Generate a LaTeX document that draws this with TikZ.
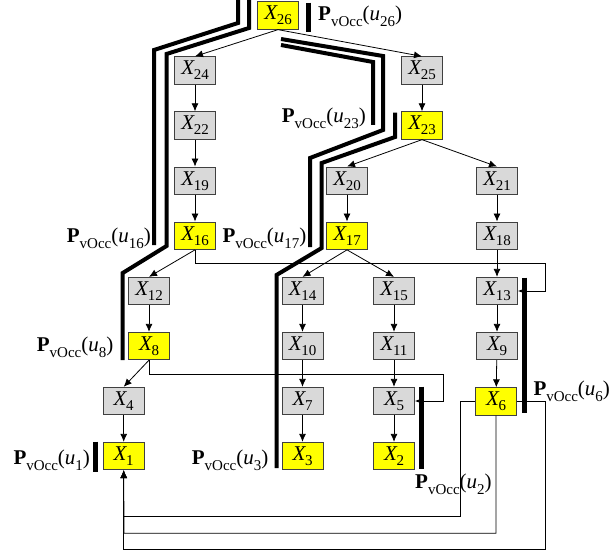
\documentclass[tikz,border=0pt]{standalone}
\usepackage{fontspec}
\setmainfont{Liberation Serif}
\usetikzlibrary{arrows.meta}
\definecolor{boxgray}{HTML}{D9D9D9}
\definecolor{boxyellow}{HTML}{FFFF00}
\definecolor{boxline}{HTML}{404040}
\newcommand{\Xv}[1]{\fontsize{21}{21}\selectfont\textit{X}\kern-1pt\raisebox{-5pt}{\fontsize{15}{15}\selectfont #1}}
\newcommand{\Pv}[1]{\fontsize{21}{21}\selectfont\textbf{P}\raisebox{-6pt}{\fontsize{15}{15}\selectfont vOcc}(\textit{u}\raisebox{-6pt}{\fontsize{15}{15}\selectfont #1})}
\tikzset{
  vbox/.style={draw=boxline, line width=0.8pt, minimum width=41pt, minimum height=27.5pt, inner sep=0pt, fill=boxgray},
  ybox/.style={vbox, fill=boxyellow},
  arr/.style={draw=black, line width=0.8pt, -{Latex[length=8pt,width=7pt]}},
  occ/.style={line width=4pt, line cap=butt, line join=miter},
  occbar/.style={line width=4.5pt, line cap=butt},
  lab/.style={inner sep=0pt, anchor=base west}
}
\begin{document}
\begin{tikzpicture}[x=1pt,y=-1pt]
\useasboundingbox (0,0) rectangle (609,556);
% nodes
\node[ybox] (X26) at (278,15.5) {\Xv{26}};
\node[vbox] (X24) at (195,70.5) {\Xv{24}};
\node[vbox] (X25) at (422,70.5) {\Xv{25}};
\node[vbox] (X22) at (195,125.5) {\Xv{22}};
\node[ybox] (X23) at (422,125.5) {\Xv{23}};
\node[vbox] (X19) at (195,180.7) {\Xv{19}};
\node[vbox] (X20) at (347,180.7) {\Xv{20}};
\node[vbox] (X21) at (497,180.7) {\Xv{21}};
\node[ybox] (X16) at (195,235.7) {\Xv{16}};
\node[ybox] (X17) at (347,235.7) {\Xv{17}};
\node[vbox] (X18) at (497,235.7) {\Xv{18}};
\node[vbox] (X12) at (149,291) {\Xv{12}};
\node[vbox] (X14) at (302.5,291) {\Xv{14}};
\node[vbox] (X15) at (394,291) {\Xv{15}};
\node[vbox] (X13) at (497,291) {\Xv{13}};
\node[ybox] (X8) at (149,346) {\Xv{8}};
\node[vbox] (X10) at (302.5,346) {\Xv{10}};
\node[vbox] (X11) at (394,346) {\Xv{11}};
\node[vbox] (X9) at (497,346) {\Xv{9}};
\node[vbox] (X4) at (123.7,401) {\Xv{4}};
\node[vbox] (X7) at (302.5,401) {\Xv{7}};
\node[vbox] (X5) at (394,401) {\Xv{5}};
\node[ybox] (X6) at (496,401.5) {\Xv{6}};
\node[ybox] (X1) at (123.7,456) {\Xv{1}};
\node[ybox] (X3) at (302.5,456) {\Xv{3}};
\node[ybox] (X2) at (394,456) {\Xv{2}};
% edges
\draw[arr] (X26.south) -- (X24.north);
\draw[arr] (X26.south) -- (X25.north);
\draw[arr] (X24) -- (X22);
\draw[arr] (X22) -- (X19);
\draw[arr] (X19) -- (X16);
\draw[arr] (X25) -- (X23);
\draw[arr] (X23.south) -- (X20.north);
\draw[arr] (X23.south) -- (X21.north);
\draw[arr] (X20) -- (X17);
\draw[arr] (X21) -- (X18);
\draw[arr] (X18) -- (X13);
\draw[arr] (X16.south) -- (X12.north);
\draw[arr] (X17.south) -- (X14.north);
\draw[arr] (X17.south) -- (X15.north);
\draw[arr] (X12) -- (X8);
\draw[arr] (X14) -- (X10);
\draw[arr] (X15) -- (X11);
\draw[arr] (X13) -- (X9);
\draw[arr] (X8.south) -- (X4.north);
\draw[arr] (X10) -- (X7);
\draw[arr] (X11) -- (X5);
\draw[arr] (X9) -- (X6);
\draw[arr] (X4) -- (X1);
\draw[arr] (X7) -- (X3);
\draw[arr] (X5) -- (X2);
% loops
\draw[arr] (X16.south) |- (545.7,263.3) |- (X13.east);
\draw[arr] (X8.south) |- (443.3,374) |- (X5.east);
\draw[arr] (X6.west) -| (460.3,516.7) -| (X1.south);
\draw[arr] (X6.south) |- (124,533.3) -- (X1.south);
\draw[arr] (X6.east) -| (545.7,549) -| (X1.south);
% occupancy paths
\draw[occ] (238,-3) -- (238,23) -- (154,50) -- (154,245);
\draw[occ] (249,-3) -- (249,28) -- (166.5,54) -- (166.5,246) -- (122.7,273) -- (122.7,360);
\draw[occ] (281,39) -- (383,56) -- (383,130) -- (310,158) -- (310,247);
\draw[occ] (281,45) -- (373,62) -- (373,125);
\draw[occ] (395,112.7) -- (395,137) -- (321.7,163) -- (321.7,248) -- (276.5,275) -- (276.5,468);
% bars
\draw[occbar] (308.3,2.7) -- (308.3,32.3);
\draw[occbar] (95.7,441.7) -- (95.7,471.7);
\draw[occbar] (421.3,386.7) -- (421.3,469.3);
\draw[occbar] (524.7,277.7) -- (524.7,412.7);
% labels
\node[lab] (L26) at (318,21) {\Pv{26}};
\node[lab] (L23) at (281.7,123) {\Pv{23}};
\node[lab] (L16) at (66.7,242) {\Pv{16}};
\node[lab] (L17) at (222.3,242) {\Pv{17}};
\node[lab] (L8) at (36.7,351.7) {\Pv{8}};
\node[lab] (L1) at (13.3,464.3) {\Pv{1}};
\node[lab] (L3) at (191.7,464.3) {\Pv{3}};
\node[lab] (L2) at (415,488.3) {\Pv{2}};
\node[lab] (L6) at (533.3,395) {\Pv{6}};
\end{tikzpicture}
\end{document}
